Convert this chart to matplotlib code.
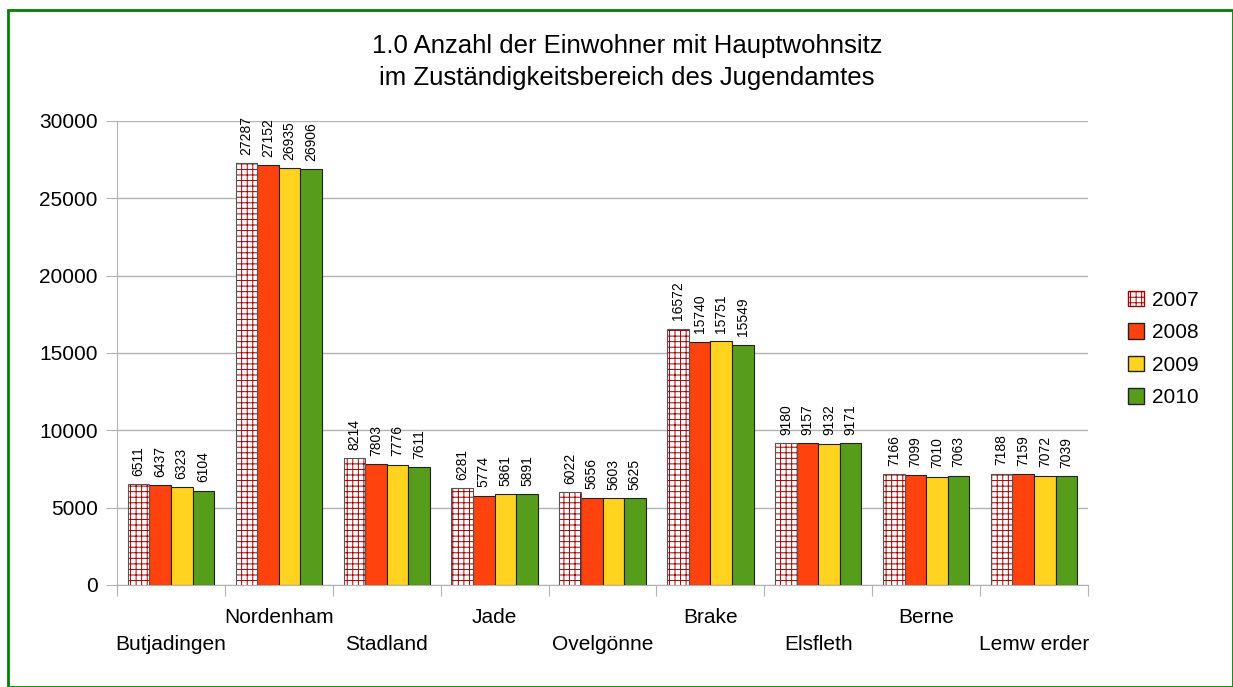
import numpy as np
import matplotlib.pyplot as plt
from matplotlib.patches import Rectangle

plt.rcParams["font.family"] = ["Liberation Sans", "DejaVu Sans"]
plt.rcParams["hatch.linewidth"] = 0.7

orte = ["Butjadingen", "Nordenham", "Stadland", "Jade", "Ovelgönne",
        "Brake", "Elsfleth", "Berne", "Lemw erder"]
jahre = ["2007", "2008", "2009", "2010"]
w2007 = [6511, 27287, 8214, 6281, 6022, 16572, 9180, 7166, 7188]
w2008 = [6437, 27152, 7803, 5774, 5656, 15740, 9157, 7099, 7159]
w2009 = [6323, 26935, 7776, 5861, 5603, 15751, 9132, 7010, 7072]
w2010 = [6104, 26906, 7611, 5891, 5625, 15549, 9171, 7063, 7039]
werte = [w2007, w2008, w2009, w2010]
farben = ["white", "#ff420e", "#ffd320", "#579d1c"]

fig = plt.figure(figsize=(12.33, 6.87), dpi=100)
ax = fig.add_axes([117 / 1233, 1 - 585 / 687, (1088 - 117) / 1233, (585 - 121) / 687])

# green frame around the whole chart
fig.patches.append(Rectangle((8 / 1233, 0), 1 - 8 / 1233, 1 - 10 / 687,
                             transform=fig.transFigure, fill=False,
                             edgecolor="#008000", lw=2))

x = np.arange(len(orte))
bw = 0.2
for i, (vals, col) in enumerate(zip(werte, farben)):
    pos = x - 0.3 + i * bw
    if i == 0:
        ax.bar(pos, vals, bw, color="white", edgecolor="#a00000", hatch="+++", lw=0, zorder=3)
        ax.bar(pos, vals, bw, fill=False, edgecolor="#555555", lw=0.8, zorder=4)
    else:
        ax.bar(pos, vals, bw, color=col, edgecolor="#222222", lw=0.8, zorder=3)
    for p, v in zip(pos, vals):
        ax.annotate(str(v), (p, v), xytext=(0, 6), textcoords="offset points",
                    rotation=90, ha="center", va="bottom", fontsize=10)

ax.set_xlim(-0.5, len(orte) - 0.5)
ax.set_ylim(0, 30000)
ax.set_yticks(range(0, 30001, 5000))
ax.yaxis.grid(True, color="#b3b3b3", lw=1, zorder=0)
ax.set_xticks(np.arange(-0.5, len(orte), 1))
ax.set_xticklabels([])
ax.tick_params(axis="x", length=8, color="#b3b3b3")
ax.tick_params(axis="y", length=8, color="#b3b3b3", labelsize=15, pad=6)
for s in ["top", "right"]:
    ax.spines[s].set_visible(False)
for s in ["left", "bottom"]:
    ax.spines[s].set_color("#b3b3b3")

for i, name in enumerate(orte):
    yoff = -0.069 if i % 2 else -0.129
    ax.text(i, yoff, name, transform=ax.get_xaxis_transform(),
            ha="center", va="center", fontsize=15)

fig.text(627 / 1233, 1 - 62 / 687,
         "1.0 Anzahl der Einwohner mit Hauptwohnsitz\nim Zuständigkeitsbereich des Jugendamtes",
         ha="center", va="center", fontsize=18.5, linespacing=1.4)

handles = [Rectangle((0, 0), 1, 1, facecolor="white", edgecolor="#a00000", hatch="+++")] + \
          [Rectangle((0, 0), 1, 1, facecolor=c, edgecolor="#222222") for c in farben[1:]]
fig.legend(handles, jahre, loc="center left", bbox_to_anchor=(1128 / 1233, 1 - 349 / 687),
           frameon=False, fontsize=15, handlelength=0.75, handleheight=0.75,
           handletextpad=0.4, labelspacing=0.65, borderpad=0, borderaxespad=0)

fig.savefig("out.png", dpi=100)
